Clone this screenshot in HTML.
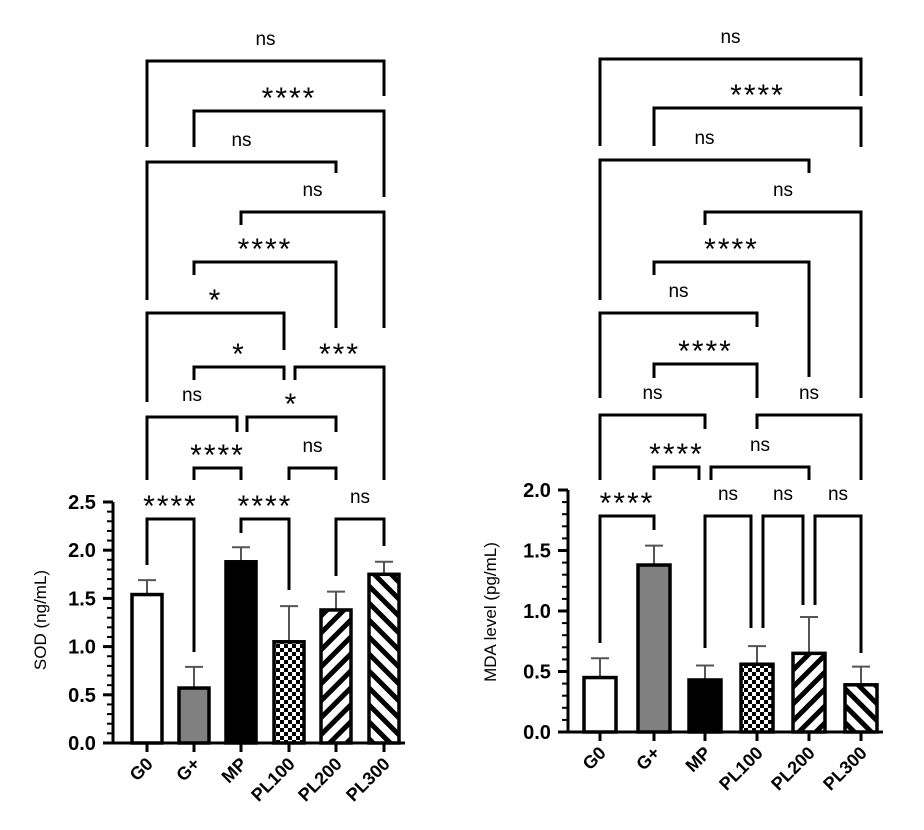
<!DOCTYPE html>
<html><head><meta charset="utf-8"><style>
body{margin:0;background:#fff}
svg text{font-family:"Liberation Sans","DejaVu Sans",sans-serif}
</style></head><body>
<svg id="s" width="924" height="825" xmlns="http://www.w3.org/2000/svg">
<defs>
<pattern id="chk" width="8" height="8" patternUnits="userSpaceOnUse"><rect width="8" height="8" fill="#fff"/><rect width="4" height="4" fill="#000"/><rect x="4" y="4" width="4" height="4" fill="#000"/></pattern>
<pattern id="fw" width="12" height="12" patternUnits="userSpaceOnUse" patternTransform="rotate(45)"><rect width="12" height="12" fill="#fff"/><rect width="5" height="12" fill="#000"/></pattern>
<pattern id="bw" width="12" height="12" patternUnits="userSpaceOnUse" patternTransform="rotate(-45)"><rect width="12" height="12" fill="#fff"/><rect width="5" height="12" fill="#000"/></pattern>
</defs>
</svg>
<script>
var s=document.getElementById('s'),o='';
function L(x1,y1,x2,y2,w,c){o+='<line x1="'+x1+'" y1="'+y1+'" x2="'+x2+'" y2="'+y2+'" stroke="'+(c||'#000')+'" stroke-width="'+(w||3)+'"/>';}
function T(x,y,t,sz,extra){o+='<text x="'+x+'" y="'+y+'" font-size="'+sz+'" text-anchor="middle" '+(extra||'')+'>'+t+'</text>';}
var fills=['#fff','#808080','#000','url(#chk)','url(#fw)','url(#bw)'];
var names=['G0','G+','MP','PL100','PL200','PL300'];
function chart(c){
 var ax=c.ax,y0=c.y0,k=c.k,xs=c.xs,bw=c.bw;
 for(var i=0;i<6;i++){
  var yt=y0-c.v[i]*k,ye=y0-c.e[i]*k;
  L(xs[i],yt,xs[i],ye,2,'#555');L(xs[i]-9,ye,xs[i]+9,ye,2,'#555');
  o+='<rect x="'+(xs[i]-bw/2)+'" y="'+yt+'" width="'+bw+'" height="'+(y0-yt)+'" fill="'+fills[i]+'" stroke="#000" stroke-width="3.5"/>';
  L(xs[i],y0,xs[i],y0+9,3);
  var tx=xs[i]+7,ty=y0+22;
  o+='<text x="'+tx+'" y="'+ty+'" font-size="18" font-weight="bold" text-anchor="end" transform="rotate(-45 '+tx+' '+ty+')">'+names[i]+'</text>';
 }
 L(ax,c.ytop,ax,y0,3);L(ax,y0,xs[5]+bw/2+6,y0,3);
 var n=c.max/0.5;
 for(var j=0;j<=n;j++){var y=y0-j*0.5*k;L(ax-10,y,ax,y,3);T(ax-31,y+7,(j*0.5).toFixed(1),20,'font-weight="bold"');
  if(j<n)for(var m=1;m<5;m++){var ym=y-m*0.1*k;L(ax-6,ym,ax,ym,2);}}
 o+='<text x="'+c.lx+'" y="'+c.ly+'" font-size="17" text-anchor="middle" transform="rotate(-90 '+c.lx+' '+c.ly+')">'+c.lab+'</text>';
 c.br.forEach(function(b){
  var x1=xs[b[0]]+(b[6]||0),x2=xs[b[1]]+(b[7]||0);
  L(x1-1.5,b[2],x2+1.5,b[2],3);L(x1,b[2],x1,b[4],3);L(x2,b[2],x2,b[5],3);
  if(b[3].indexOf('*')>=0)T((x1+x2)/2,b[2]-3,b[3],30,'letter-spacing="2"');
  else T((x1+x2)/2,b[2]-16,b[3],19,'');
 });
}
chart({ax:113,y0:743,k:96.4,max:2.5,ytop:502,xs:[147,194,241,289,336,384],bw:30,
 v:[1.54,0.57,1.88,1.05,1.38,1.75],e:[1.69,0.79,2.03,1.42,1.57,1.88],lx:46,ly:620,lab:'SOD (ng/mL)',
 br:[[0,5,61,'ns',147,96],[1,5,111,'****',147,197],[0,4,162,'ns',300,173],[2,5,212,'ns',225,328],
 [1,4,262,'****',275,328],[0,3,313,'*',402,350,0,-5],[1,3,367,'*',380,380,0,-5],[3,5,367,'***',380,480,6,0],
 [0,2,417,'ns',480,432,0,-4],[2,4,417,'*',432,432,6,0],[1,2,468,'****',480,480],[3,4,468,'ns',480,480],
 [0,1,519,'****',565,652],[2,3,519,'****',533,590],[4,5,519,'ns',576,546]]});
chart({ax:568,y0:732,k:121,max:2.0,ytop:490,xs:[600,654,705,757,809,861],bw:32,
 v:[0.45,1.38,0.43,0.56,0.65,0.39],e:[0.61,1.54,0.55,0.71,0.95,0.54],lx:496,ly:612,lab:'MDA level (pg/mL)',
 br:[[0,5,59,'ns',146,96],[1,5,108,'****',146,147],[0,4,160,'ns',300,173],[2,5,212,'ns',225,398],
 [1,4,262,'****',275,377],[0,3,313,'ns',398,327],[1,3,364,'****',378,398],[0,2,415,'ns',480,429],[3,5,415,'ns',429,480],
 [1,2,467,'****',480,480,0,-6],[2,4,467,'ns',480,480,6,0],
 [0,1,516,'****',643,530],[2,3,516,'ns',648,628,0,-6],[3,4,516,'ns',628,605,6,-6],[4,5,516,'ns',605,653,6,0]]});
s.innerHTML+=o;
</script>
</body></html>
